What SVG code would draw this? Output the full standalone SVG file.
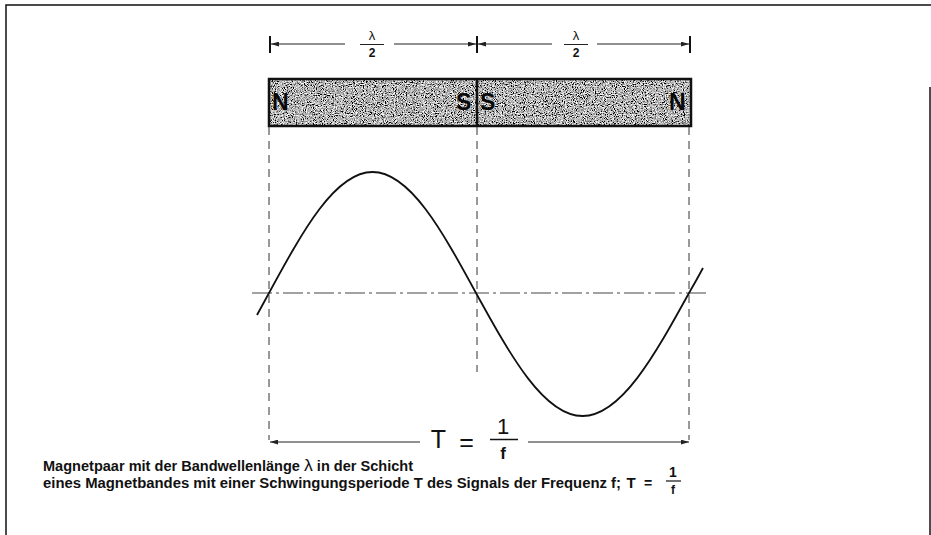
<svg xmlns="http://www.w3.org/2000/svg" width="931" height="535" viewBox="0 0 931 535">
<style>
.frame{stroke:#111;stroke-width:1.5;fill:none}
.dim{stroke:#222;stroke-width:1;fill:none}
.tick{stroke:#111;stroke-width:2;fill:none}
.guide{stroke:#333;stroke-width:1;stroke-dasharray:8 6;fill:none}
.axis{stroke:#444;stroke-width:1;stroke-dasharray:20 4 3 4;fill:none}
.wave{stroke:#111;stroke-width:1.8;fill:none}
.pole{font-family:"Liberation Sans",Arial,sans-serif;font-weight:bold;font-size:23px;fill:#0a0a0a}
.small{font-family:"Liberation Sans",Arial,sans-serif;font-weight:bold;font-size:12px;fill:#111}
.big{font-family:"Liberation Sans",Arial,sans-serif;font-size:25px;fill:#111}
.cap{font-family:"Liberation Sans",Arial,sans-serif;font-weight:bold;font-size:14px;fill:#111}
</style>
<defs>
<marker id="arr" viewBox="0 0 10 6" refX="10" refY="3" markerWidth="8" markerHeight="5" orient="auto-start-reverse" markerUnits="userSpaceOnUse">
<path d="M0,0 L10,3 L0,6 Z" fill="#222"/>
</marker>
<filter id="grain" x="0" y="0" width="100%" height="100%">
<feTurbulence type="fractalNoise" baseFrequency="0.9" numOctaves="2" seed="7" result="n"/>
<feColorMatrix in="n" type="matrix" values="1.6 1.6 1.6 0 -1.95  1.6 1.6 1.6 0 -1.95  1.6 1.6 1.6 0 -1.95  0 0 0 0 1" result="g"/>
<feComposite in="g" in2="SourceGraphic" operator="in"/>
</filter>
</defs>
<rect width="931" height="535" fill="#fff"/>
<g id="frame">
<path class="frame" d="M6,535 L6,5 L931,5"/>
<path class="frame" d="M930,87 L930,535"/>
</g>
<g id="tape">
<rect x="269" y="79" width="422" height="47" fill="#fff" filter="url(#grain)"/>
<rect x="269" y="79" width="422" height="47" fill="none" stroke="#111" stroke-width="2.5"/>
<line x1="477" y1="79" x2="477" y2="126" stroke="#111" stroke-width="2.5"/>
<text class="pole" x="272" y="110">N</text>
<text class="pole" x="456" y="110">S</text>
<text class="pole" x="480" y="110">S</text>
<text class="pole" x="669" y="110">N</text>
</g>
<g id="connectors">
<line class="tick" x1="270" y1="36" x2="270" y2="53"/>
<line class="tick" x1="477" y1="36" x2="477" y2="53"/>
<line class="tick" x1="690" y1="36" x2="690" y2="53"/>
<line class="dim" x1="345" y1="44" x2="271" y2="44" marker-end="url(#arr)"/>
<line class="dim" x1="394" y1="44" x2="476" y2="44" marker-end="url(#arr)"/>
<line class="dim" x1="552" y1="44" x2="478" y2="44" marker-end="url(#arr)"/>
<line class="dim" x1="597" y1="44" x2="689" y2="44" marker-end="url(#arr)"/>
<line class="guide" x1="269" y1="127" x2="269" y2="440"/>
<line class="guide" x1="477" y1="127" x2="477" y2="372"/>
<line class="guide" x1="689" y1="127" x2="689" y2="440"/>
<line class="axis" x1="252" y1="293" x2="707" y2="293"/>
<line class="dim" x1="420" y1="442" x2="270" y2="442" marker-end="url(#arr)"/>
<line class="dim" x1="528" y1="442" x2="689" y2="442" marker-end="url(#arr)"/>
</g>
<g id="wave">
<path class="wave" d="M257,315 Q263,304 269,293 C302.75,231 335.04,172 372.5,172 C409.96,172 442.25,231 476,293 C510.73,356 543.96,416 582.5,416 C621.04,416 654.27,356 689,293 Q696,281 703,268"/>
</g>
<g id="labels">
<text class="small" x="372" y="40" text-anchor="middle" style="font-weight:normal;font-size:13px">λ</text>
<line x1="360" y1="44.5" x2="384" y2="44.5" stroke="#222" stroke-width="1"/>
<text class="small" x="372" y="57" text-anchor="middle">2</text>
<text class="small" x="576" y="40" text-anchor="middle" style="font-weight:normal;font-size:13px">λ</text>
<line x1="564" y1="44.5" x2="588" y2="44.5" stroke="#222" stroke-width="1"/>
<text class="small" x="576" y="57" text-anchor="middle">2</text>
<text class="big" x="438.5" y="448" text-anchor="middle">T</text>
<text class="big" x="466.5" y="451" text-anchor="middle">=</text>
<text class="big" x="503" y="434" text-anchor="middle" style="font-size:22px">1</text>
<line x1="490" y1="439.5" x2="518" y2="439.5" stroke="#111" stroke-width="1.5"/>
<text class="big" x="503" y="459" text-anchor="middle" style="font-size:17px;font-weight:bold">f</text>
</g>
<g id="caption">
<text class="cap" x="43" y="471" textLength="370" lengthAdjust="spacingAndGlyphs">Magnetpaar mit der Bandwellenlänge <tspan style="font-weight:normal;font-size:17px">λ</tspan> in der Schicht</text>
<text class="cap" x="43" y="488" textLength="578" lengthAdjust="spacingAndGlyphs">eines Magnetbandes mit einer Schwingungsperiode T des Signals der Frequenz f;</text>
<text class="cap" x="631" y="488" text-anchor="middle" style="font-size:15px">T</text>
<text class="cap" x="648" y="488" text-anchor="middle">=</text>
<text class="cap" x="673" y="477" text-anchor="middle">1</text>
<line x1="666" y1="481" x2="681" y2="481" stroke="#111" stroke-width="1.2"/>
<text class="cap" x="673" y="494" text-anchor="middle" style="font-size:12px">f</text>
</g>
</svg>
